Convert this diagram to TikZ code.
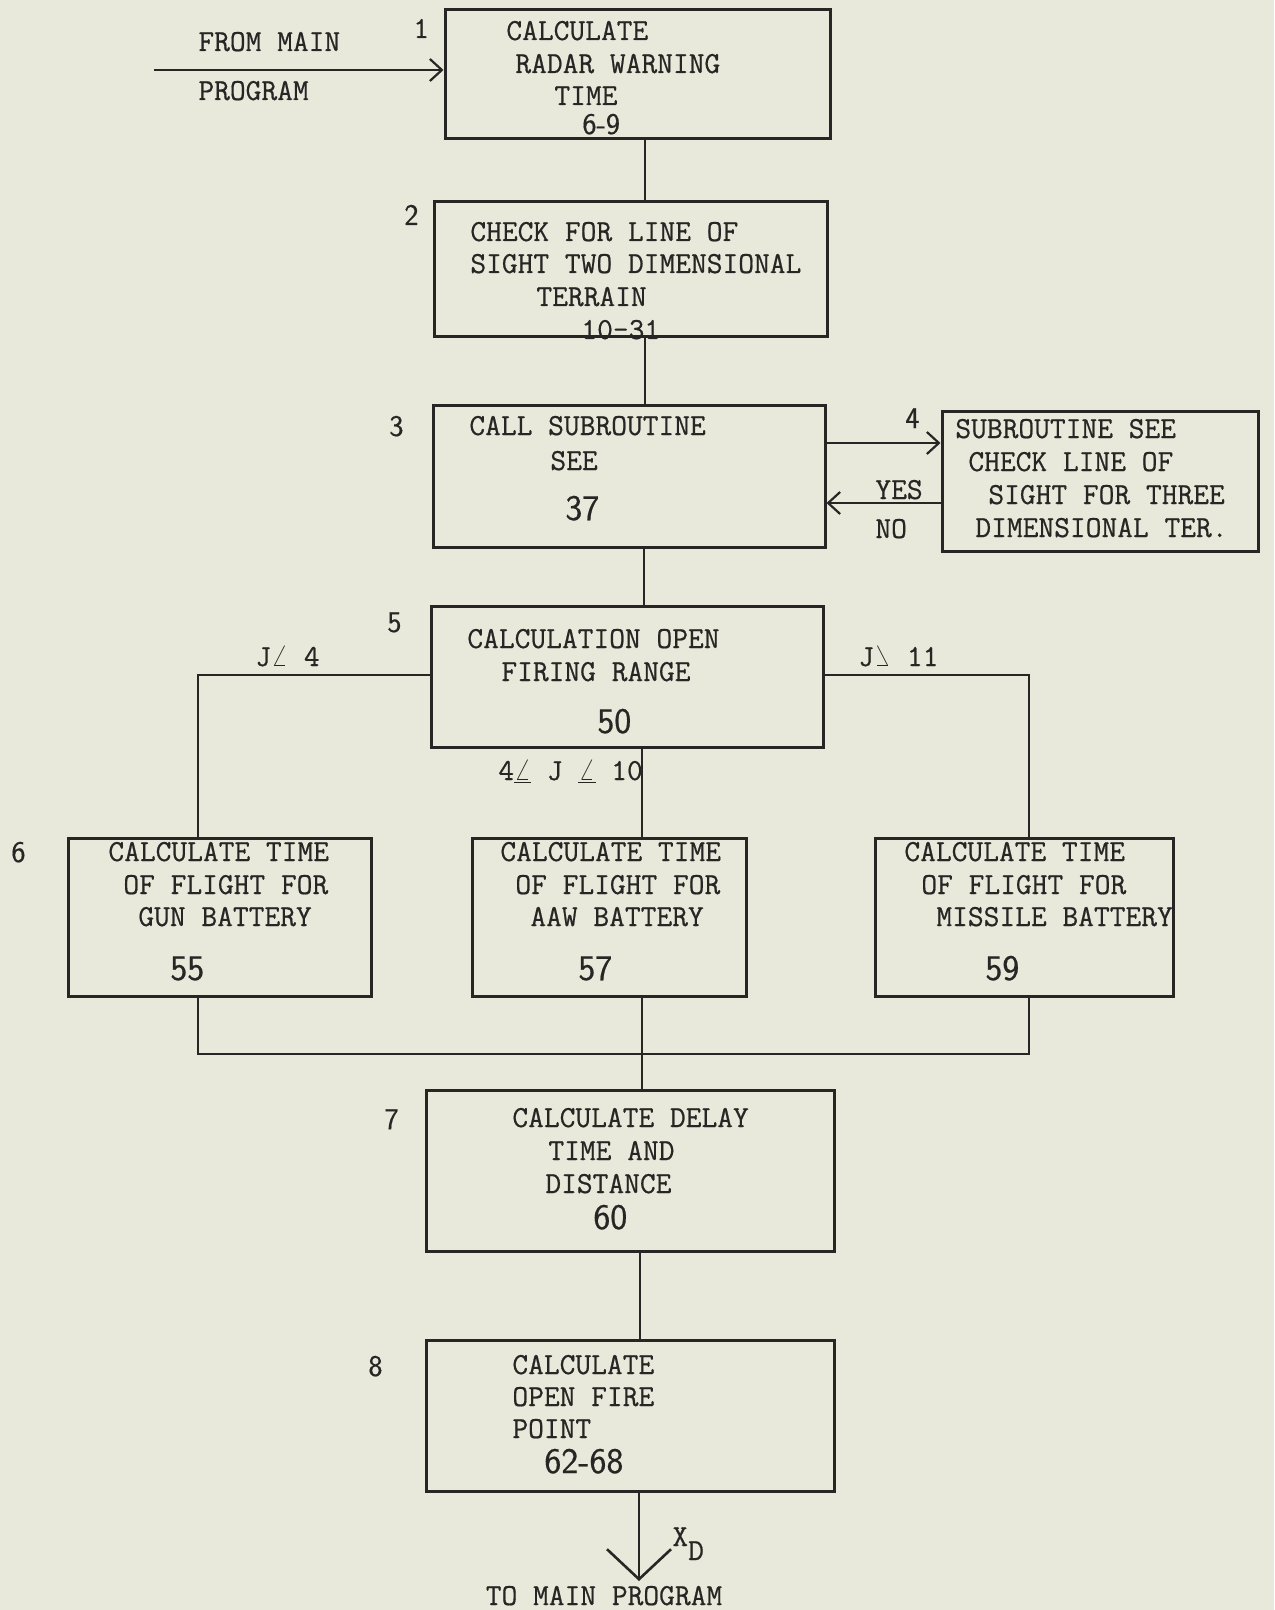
\documentclass[tikz,border=0pt]{standalone}
\usepackage{fontspec}
\setmonofont{Latin Modern Mono}[FakeBold=0.6]
\setsansfont{Latin Modern Sans}[FakeBold=0.5]
\usepackage{graphicx}
\usetikzlibrary{arrows.meta,fit}
\definecolor{paper}{RGB}{233,233,219}
\definecolor{ink}{RGB}{38,38,36}
\begin{document}
\begin{tikzpicture}[x=0.5pt,y=-0.5pt,
  box/.style={draw=ink, line width=1.5pt, inner sep=0pt},
  tl/.style={anchor=base west, inner sep=0pt, text=ink, font=\ttfamily\fontsize{15.3}{18}\selectfont},
  num/.style={anchor=base west, inner sep=0pt, text=ink, font=\sffamily\fontsize{18}{20}\selectfont},
  numsm/.style={anchor=base west, inner sep=0pt, text=ink, font=\sffamily\fontsize{15}{18}\selectfont},
  lab/.style={anchor=base west, inner sep=0pt, text=ink, font=\sffamily\fontsize{15}{18}\selectfont},
  conn/.style={draw=ink, line width=1.3pt},
  arr/.style={conn, -{Straight Barb[length=6pt,width=11pt,line width=1.1pt]}},
]
\fill[paper] (0,0) rectangle (1274,1610);
\useasboundingbox (0,0) rectangle (1274,1610);

% boxes
\node[box, fit={(445,10) (830,139)}] (b1) {};
\node[box, fit={(434,202) (827,337)}] (b2) {};
\node[box, fit={(433,405) (825,547)}] (b3) {};
\node[box, fit={(942,411) (1258,551)}] (b4) {};
\node[box, fit={(431,606) (823,747)}] (b5) {};
\node[box, fit={(68,838) (371,996)}] (b6a) {};
\node[box, fit={(472,838) (746,996)}] (b6b) {};
\node[box, fit={(875,838) (1173,996)}] (b6c) {};
\node[box, fit={(426,1090) (834,1251)}] (b7) {};
\node[box, fit={(426,1340) (834,1491)}] (b8) {};

% entry
\node[tl] (f1) at (198,51) {FROM MAIN};
\node[tl] (f2) at (198,100) {PROGRAM};
\coordinate (in) at (154,70);
\draw[arr] (in) -- (b1.west |- in);

% step numbers
\node[tl] (n1) at (413,38) {1};
\node[lab] (n2) at (404,225) {2};
\node[lab] (n3) at (389,436) {3};
\node[lab] (n4) at (905,428) {4};
\node[lab] (n5) at (387,632) {5};
\node[lab] (n6) at (11,862) {6};
\node[lab] (n7) at (384,1129) {7};
\node[lab] (n8) at (368,1376) {8};

% box 1
\node[tl] (t1a) at (506,40) {CALCULATE};
\node[tl] (t1b) at (515,73) {RADAR WARNING};
\node[tl] (t1c) at (554,105) {TIME};
\node[numsm] (t1d) at (582,134) {6-9};
% box 2
\node[tl] (t2a) at (470,241) {CHECK FOR LINE OF};
\node[tl] (t2b) at (470,273) {SIGHT TWO DIMENSIONAL};
\node[tl] (t2c) at (536,306) {TERRAIN};
\node[tl] (t2d) at (581,339) {10-31};
% box 3
\node[tl] (t3a) at (469,435) {CALL SUBROUTINE};
\node[tl] (t3b) at (550,470) {SEE};
\node[num] (t3c) at (565,520) {37};
% box 4
\node[tl] (t4a) at (955,438) {SUBROUTINE SEE};
\node[tl] (t4b) at (968,471) {CHECK LINE OF};
\node[tl] (t4c) at (988,504) {SIGHT FOR THREE};
\node[tl] (t4d) at (975,537) {DIMENSIONAL TER.};
\node[tl] (yes) at (875,499) {YES};
\node[tl] (no) at (875,538) {NO};
% box 5
\node[tl] (t5a) at (467,648) {CALCULATION OPEN};
\node[tl] (t5b) at (501,681) {FIRING RANGE};
\node[num] (t5c) at (597,733) {50};
\node[tl] (jl) at (255,666) {J$\angle$ 4};
\node[tl] (jr) at (858,666) {J\reflectbox{$\angle$} 11};
\node[tl] (jm) at (498,780) {4$\underline{\angle}$ J $\underline{\angle}$ 10};
% boxes 6
\node[tl] (t6a1) at (108,861) {CALCULATE TIME};
\node[tl] (t6a2) at (123,894) {OF FLIGHT FOR};
\node[tl] (t6a3) at (138,926) {GUN BATTERY};
\node[num] (t6a4) at (170,980) {55};
\node[tl] (t6b1) at (500,861) {CALCULATE TIME};
\node[tl] (t6b2) at (515,894) {OF FLIGHT FOR};
\node[tl] (t6b3) at (530,926) {AAW BATTERY};
\node[num] (t6b4) at (578,980) {57};
\node[tl] (t6c1) at (904,861) {CALCULATE TIME};
\node[tl] (t6c2) at (921,894) {OF FLIGHT FOR};
\node[tl] (t6c3) at (936,926) {MISSILE BATTERY};
\node[num] (t6c4) at (985,980) {59};
% box 7
\node[tl] (t7a) at (512,1127) {CALCULATE DELAY};
\node[tl] (t7b) at (548,1160) {TIME AND};
\node[tl] (t7c) at (545,1193) {DISTANCE};
\node[num] (t7d) at (593,1229) {60};
% box 8
\node[tl] (t8a) at (512,1374) {CALCULATE};
\node[tl] (t8b) at (512,1406) {OPEN FIRE};
\node[tl] (t8c) at (512,1438) {POINT};
\node[num] (t8d) at (544,1473) {62-68};
\node[tl] (xd) at (672,1546) {X\raisebox{-7pt}{D}};
\node[tl, anchor=base] (out) at (604,1605) {TO MAIN PROGRAM};

% connectors
\coordinate (c12) at (645,0);
\draw[conn] (b1.south -| c12) -- (b2.north -| c12);
\draw[conn] (b2.south -| c12) -- (b3.north -| c12);
\coordinate (c35) at (644,0);
\draw[conn] (b3.south -| c35) -- (b5.north -| c35);
\coordinate (a34) at (0,443);
\draw[arr] (b3.east |- a34) -- (b4.west |- a34);
\coordinate (a43) at (0,503);
\draw[arr] (b4.west |- a43) -- (b3.east |- a43);
\coordinate (cm) at (642,0);
\draw[conn] (b5.south -| cm) -- (b6b.north -| cm);
\coordinate (cl) at (198,675);
\draw[conn] (b5.west |- cl) -- (cl) -- (b6a.north -| cl);
\coordinate (cr) at (1029,675);
\draw[conn] (b5.east |- cr) -- (cr) -- (b6c.north -| cr);
\coordinate (ml) at (198,1054);
\coordinate (mr) at (1029,1054);
\coordinate (mm) at (642,1054);
\draw[conn] (b6a.south -| ml) -- (ml) -- (mr) -- (b6c.south -| mr);
\draw[conn] (b6b.south -| mm) -- (mm) -- (b7.north -| mm);
\coordinate (c78) at (640,0);
\draw[conn] (b7.south -| c78) -- (b8.north -| c78);
\coordinate (tip) at (639,1581);
\draw[conn, -{Straight Barb[length=15pt,width=32pt,line width=1.3pt]}] (b8.south -| tip) -- (tip);
\end{tikzpicture}
\end{document}
